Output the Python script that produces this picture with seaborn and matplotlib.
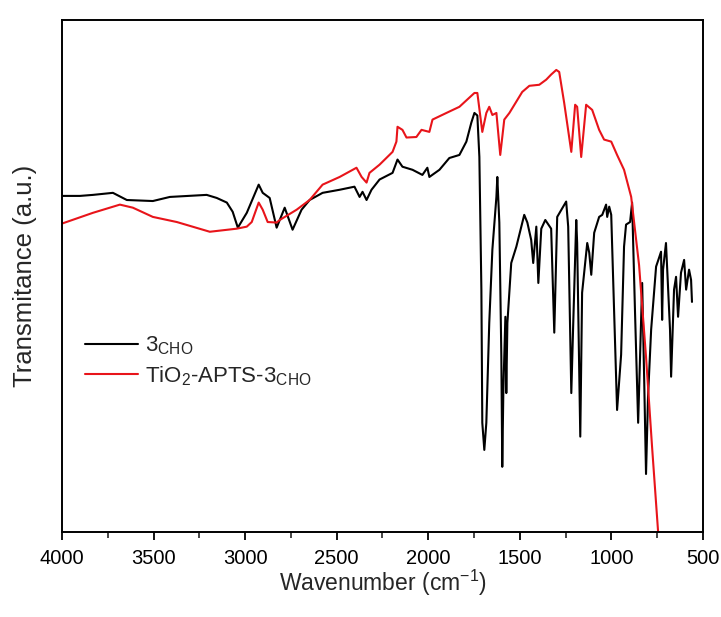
import matplotlib
matplotlib.use("Agg")
import matplotlib.pyplot as plt
import seaborn as sns
import pandas as pd

# ---- data (wavenumber in cm-1, transmittance in a.u.) ----
wn_3cho = [4000, 3902, 3831, 3722, 3646, 3504, 3411, 3210, 3155, 3100, 3068, 3040, 2991,
           2926, 2904, 2866, 2828, 2784, 2741, 2692, 2648, 2577, 2484, 2403, 2375, 2359,
           2337, 2310, 2266, 2195, 2168, 2141, 2086, 2032, 2005, 1994, 1939, 1885, 1830,
           1792, 1765, 1748, 1732, 1721, 1710, 1705, 1694, 1683, 1667, 1650, 1628, 1623,
           1612, 1601, 1596, 1590, 1579, 1574, 1568, 1547, 1519, 1476, 1459, 1438, 1427,
           1410, 1399, 1383, 1361, 1329, 1312, 1296, 1247, 1236, 1219, 1209, 1192, 1187,
           1170, 1160, 1132, 1121, 1110, 1094, 1067, 1050, 1029, 1023, 1012, 1001, 985,
           969, 947, 931, 920, 898, 887, 871, 854, 832, 821, 811, 800, 783, 756, 740, 729,
           723, 718, 702, 680, 674, 658, 647, 636, 620, 603, 592, 576, 565, 560]
t_3cho = [65.6, 65.6, 65.8, 66.2, 64.8, 64.6, 65.4, 65.8, 65.2, 64.3, 62.5, 59.4, 62.3,
          67.8, 66.2, 65.2, 59.4, 63.3, 59.0, 62.9, 64.8, 66.2, 66.8, 67.4, 65.4, 66.4,
          64.8, 66.8, 68.8, 70.1, 72.7, 71.3, 70.7, 69.7, 71.1, 69.3, 70.7, 73.0, 73.6,
          76.2, 79.9, 81.8, 81.3, 73.2, 47.3, 21.3, 16.0, 21.3, 40.8, 55.1, 65.4, 69.3,
          60.4, 34.2, 12.7, 27.7, 42.0, 27.1, 40.8, 52.5, 55.7, 61.9, 60.4, 57.0, 52.5,
          59.6, 48.6, 59.2, 60.9, 59.2, 38.9, 61.5, 64.5, 59.6, 27.1, 40.0, 60.9, 56.4,
          18.6, 46.7, 56.4, 54.5, 50.2, 58.4, 61.5, 61.9, 63.9, 61.5, 63.5, 61.9, 42.8,
          23.8, 34.6, 55.7, 60.0, 60.5, 64.3, 42.8, 21.3, 48.6, 29.7, 11.3, 26.4, 39.5,
          51.8, 53.5, 54.7, 41.4, 51.2, 56.4, 39.5, 30.3, 47.3, 49.8, 42.0, 50.6, 53.1,
          47.3, 51.2, 49.2, 44.9]

wn_tio2 = [4000, 3831, 3684, 3613, 3504, 3373, 3193, 3046, 2991, 2964, 2926, 2904, 2877,
           2828, 2811, 2719, 2648, 2577, 2484, 2392, 2364, 2337, 2321, 2266, 2195, 2174,
           2168, 2141, 2119, 2065, 2037, 1994, 1977, 1901, 1830, 1748, 1732, 1705, 1683,
           1667, 1650, 1628, 1607, 1585, 1557, 1487, 1448, 1394, 1356, 1329, 1301, 1285,
           1258, 1219, 1198, 1187, 1165, 1138, 1105, 1067, 1040, 1001, 969, 931, 892, 849,
           811, 778, 745, 729]
t_tio2 = [60.2, 62.3, 63.9, 63.3, 61.5, 60.5, 58.6, 59.2, 59.6, 60.5, 64.3, 62.9, 60.5,
          60.4, 60.9, 62.9, 64.8, 67.8, 69.3, 71.1, 69.3, 68.2, 70.1, 71.7, 74.2, 76.2,
          79.1, 78.5, 77.0, 77.1, 78.5, 78.1, 80.5, 81.8, 83.0, 85.7, 85.7, 78.1, 81.8,
          83.0, 81.4, 81.8, 73.6, 80.5, 81.8, 85.9, 87.1, 87.3, 88.3, 89.3, 90.2, 89.8,
          83.8, 74.2, 83.4, 83.0, 73.2, 83.4, 82.4, 78.5, 76.6, 76.2, 73.6, 70.7, 65.4,
          52.1, 34.2, 16.6, 0.0, -8.4]

labels = [r"3$_{\mathregular{CHO}}$", r"TiO$_{\mathregular{2}}$-APTS-3$_{\mathregular{CHO}}$"]
x_ticks = [4000, 3500, 3000, 2500, 2000, 1500, 1000, 500]

sns.set_theme(style="ticks")
plt.rcParams["font.family"] = ["Liberation Sans", "DejaVu Sans"]
plt.rcParams["mathtext.fontset"] = "custom"
plt.rcParams["mathtext.rm"] = "Liberation Sans"
plt.rcParams["mathtext.it"] = "Liberation Sans"
plt.rcParams["mathtext.bf"] = "Liberation Sans"

df1 = pd.DataFrame({"wn": wn_3cho, "t": t_3cho})
df2 = pd.DataFrame({"wn": wn_tio2, "t": t_tio2})

fig = plt.figure(figsize=(7.21, 6.17), dpi=100)
ax = fig.add_axes([0.086, 0.138, 0.889, 0.830])

sns.lineplot(data=df1, x="wn", y="t", color="black", lw=1.5, sort=False,
             estimator=None, ax=ax, label=labels[0])
sns.lineplot(data=df2, x="wn", y="t", color="#e8141a", lw=1.5, sort=False,
             estimator=None, ax=ax, label=labels[1])

ax.set_xlim(4000, 500)
ax.set_ylim(0, 100)
ax.set_xticks(x_ticks)
ax.set_xticks([3750, 3250, 2750, 2250, 1750, 1250, 750], minor=True)
ax.set_yticks([])
ax.tick_params(axis="x", which="major", direction="out", length=6, width=1.3,
               labelsize=14.5, colors="black", pad=6)
ax.tick_params(axis="x", which="minor", direction="out", length=4, width=1.2)
for s in ax.spines.values():
    s.set_linewidth(1.4)
    s.set_color("black")

ax.set_xlabel(r"Wavenumber (cm$^{\mathregular{-1}}$)", fontsize=16.5, labelpad=0)
ax.set_ylabel("Transmitance (a.u.)", fontsize=18.5, labelpad=18)

leg = ax.legend(loc="center left", bbox_to_anchor=(0.022, 0.333), frameon=False,
                fontsize=16, handlelength=2.4, handletextpad=0.3,
                labelspacing=0.3, borderaxespad=0)
for h in leg.get_lines():
    h.set_linewidth(1.5)

fig.savefig("out.png", dpi=100)
